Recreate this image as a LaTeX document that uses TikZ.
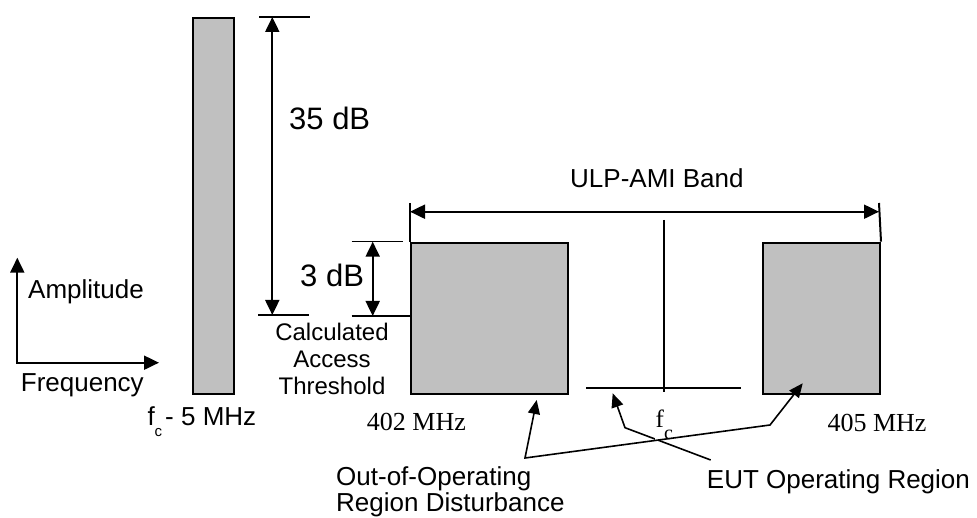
\documentclass[tikz,border=0pt]{standalone}
\usepackage{fontspec}
\setmainfont{Liberation Sans}
\newfontfamily\seriffont{Liberation Serif}
\usetikzlibrary{arrows.meta}
\definecolor{barfill}{HTML}{C0C0C0}
\begin{document}
\begin{tikzpicture}[x=1pt,y=-1pt,
  bar/.style={draw=black, fill=barfill, line width=2pt, inner sep=0pt, anchor=north west},
  dimarrow/.style={line width=2pt, {Triangle[length=15pt,width=14pt]}-{Triangle[length=15pt,width=14pt]}},
  axisarrow/.style={line width=2pt, {Triangle[length=15pt,width=14pt]}-{Triangle[length=15pt,width=14pt]}},
  tick/.style={line width=1.5pt},
  thin/.style={line width=1.4pt},
  leader/.style={line width=1.6pt},
  lab/.style={inner sep=0pt, anchor=base west, font=\fontsize{26}{26.7}\selectfont},
  biglab/.style={inner sep=0pt, anchor=base west, font=\fontsize{31}{31}\selectfont},
  seriflab/.style={inner sep=0pt, anchor=base west, font=\seriffont\fontsize{26}{26}\selectfont},
]
\useasboundingbox (0,0) rectangle (977,518);

% tall bar (f_c - 5 MHz)
\node[bar, minimum width=41.6pt, minimum height=375.8pt] (tall) at (191.7,16.7) {};

% 35 dB dimension
\coordinate (t35a) at (259,17);
\coordinate (t35b) at (310,17);
\coordinate (b35a) at (258,315);
\coordinate (b35b) at (309,315);
\draw[tick] (t35a) -- (t35b);
\draw[tick] (b35a) -- (b35b);
\coordinate (d35t) at (272.3,17);
\coordinate (d35b) at (272.3,315);
\draw[dimarrow] (d35t) -- (d35b);
\node[biglab] (l35) at (289,130) {35 dB};

% 3 dB dimension
\coordinate (t3a) at (351.7,241.7);
\coordinate (t3b) at (402.7,241.7);
\coordinate (thra) at (351.7,316);
\coordinate (thrb) at (410,316);
\draw[tick] (t3a) -- (t3b);
\draw[tick] (thra) -- (thrb);
\coordinate (d3t) at (372.7,241.7);
\coordinate (d3b) at (372.7,316);
\draw[dimarrow] (d3t) -- (d3b);
\node[biglab] (l3) at (300,286.7) {3 dB};

% axes
\coordinate (ay) at (17.3,257.7);
\coordinate (ao) at (17.3,362.7);
\coordinate (ax) at (159,362.7);
\draw[axisarrow] (ay) -- (ao) -- (ax);
\node[lab] (amp) at (28,298.3) {Amplitude};
\node[lab] (freq) at (20.7,391.7) {Frequency};
\node[lab] (fc5) at (147.3,425) {f\raisebox{-11pt}{\fontsize{15}{15}\selectfont c}\hspace{3pt}- 5 MHz};

\node[inner sep=0pt, anchor=base, align=center, font=\fontsize{24}{27.3}\selectfont] (cat) at (332,395) {Calculated\\Access\\Threshold};

% band boxes
\node[bar, minimum width=157.3pt, minimum height=151pt] (lbox) at (410,241.7) {};
\node[bar, minimum width=117.3pt, minimum height=151pt] (rbox) at (761.7,241.7) {};
\coordinate (bl) at (410,203);
\coordinate (br) at (879,203);
\draw[line width=2pt] (bl) -- (lbox.north west);
\draw[line width=2pt] (br) -- (rbox.north east);
\coordinate (ul) at (410,211.7);
\coordinate (ur) at (879,211.7);
\draw[dimarrow] (ul) -- (ur);
\node[lab, anchor=base west] (ulp) at (570,187.7) {ULP-AMI Band};

% centre line and EUT region line
\coordinate (ct) at (664,220);
\coordinate (cb) at (664,391.7);
\draw[thin] (ct) -- (cb);
\coordinate (eul) at (586,388);
\coordinate (eur) at (741,388);
\draw[tick] (eul) -- (eur);

\node[seriflab] (m402) at (366.7,430) {402 MHz};
\node[seriflab] (m405) at (827.3,431) {405 MHz};

% EUT leader (under f_c label)
\coordinate (e1) at (710.7,460);
\coordinate (e2) at (625,427.7);
\coordinate (e3) at (612.7,393.3);
\draw[leader, -{Triangle[length=14pt,width=12pt]}] (e1) -- (e2) -- (e3);

\node[fill=white, inner sep=1pt, anchor=base west, font=\seriffont\fontsize{25}{25}\selectfont] (fc) at (654.5,428) {f\raisebox{-11pt}{\fontsize{20}{20}\selectfont c}};

% Out-of-operating leader
\coordinate (o1) at (536.7,400);
\coordinate (o2) at (525,458);
\coordinate (o3) at (770,425);
\coordinate (o4) at (802.7,383.3);
\draw[leader, {Triangle[length=14pt,width=12pt]}-{Triangle[length=14pt,width=12pt]}] (o1) -- (o2) -- (o3) -- (o4);

\node[inner sep=0pt, anchor=base west, align=left, font=\fontsize{26}{26}\selectfont] (ood) at (336,511.5) {Out-of-Operating\\Region Disturbance};
\node[lab] (eut) at (706.7,488.3) {EUT Operating Region};
\end{tikzpicture}
\end{document}
